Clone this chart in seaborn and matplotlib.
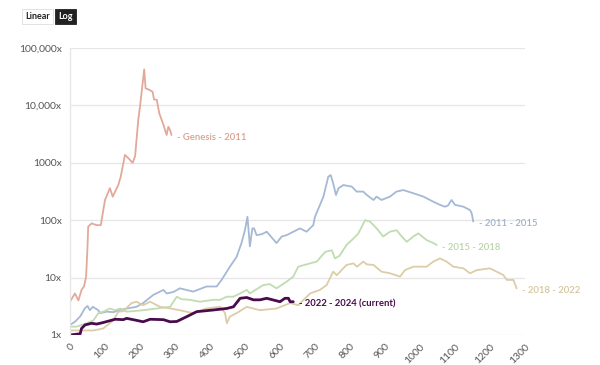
import matplotlib
matplotlib.use("Agg")
import matplotlib.pyplot as plt
import seaborn as sns
import pandas as pd

# ---- data (days since cycle low, multiple of cycle low price) ----
genesis_days = [0, 14, 24, 33, 40, 46, 50, 52, 62, 76, 88, 100, 114, 122, 138, 145, 157, 167, 179, 186,
                195, 200, 212, 216, 224, 236, 240, 248, 255, 267, 276, 281, 286, 290]
genesis_vals = [3.8, 5.3, 4.0, 6.1, 7.0, 10.4, 34.6, 77, 88, 82, 82, 225, 362, 257, 410, 575, 1370, 1200, 1000, 1300,
                5560, 9500, 42500, 19800, 19000, 17300, 12700, 12500, 7300, 4600, 3050, 4250, 3700, 3050]

c1115_days = [0, 14, 29, 43, 50, 57, 65, 81, 86, 105, 124, 150, 190, 209, 238, 267, 276, 295, 314, 352, 390, 419,
              433, 457, 476, 490, 500, 507, 514, 521, 526, 533, 548, 562, 590, 605, 619, 657, 676, 695, 700, 724,
              738, 745, 752, 760, 767, 781, 805, 819, 838, 848, 867, 876, 890, 914, 933, 952, 981, 1010, 1038,
              1057, 1071, 1080, 1090, 1100, 1124, 1143, 1148, 1152]
c1115_vals = [1.5, 1.7, 2.1, 2.95, 3.2, 2.7, 3.1, 2.7, 2.4, 2.55, 2.5, 2.8, 3.1, 3.6, 5.0, 6.1, 5.3, 5.6, 6.5, 5.7, 7.0, 7.0,
              9.1, 15.5, 23, 40, 68, 115, 35, 72, 72, 55, 57, 63, 40, 52, 55, 72, 63, 82, 115, 257,
              575, 610, 437, 275, 360, 410, 385, 315, 315, 275, 225, 257, 225, 257, 315, 335, 295, 257, 210,
              185, 172, 180, 225, 185, 172, 150, 130, 95]

c1518_days = [0, 19, 48, 67, 81, 95, 114, 129, 143, 162, 209, 248, 286, 305, 319, 343, 371, 410, 429, 448, 467,
              486, 505, 514, 552, 571, 590, 619, 638, 652, 686, 705, 729, 748, 757, 770, 790, 810, 824, 843, 857,
              876, 895, 914, 933, 948, 962, 981, 995, 1019, 1038, 1048]
c1518_vals = [1.4, 1.4, 1.6, 1.8, 2.4, 2.55, 2.9, 2.7, 2.9, 2.55, 2.7, 2.9, 3.1, 4.65, 4.2, 4.1, 3.8, 4.1, 4.1, 4.65, 4.65,
              5.3, 6.1, 5.3, 7.4, 7.7, 6.5, 8.5, 10.4, 15.5, 17.7, 19, 28, 30, 21.6, 24, 37, 48, 59, 100, 95,
              72, 52, 63, 67, 52, 42, 52, 59, 45, 40, 37]

c1822_days = [0, 29, 67, 95, 124, 138, 152, 176, 190, 209, 229, 257, 286, 314, 352, 390, 429, 443, 448, 457, 476,
              505, 543, 590, 629, 652, 686, 714, 733, 752, 762, 790, 810, 820, 838, 848, 867, 890, 914, 943, 957,
              981, 1019, 1038, 1057, 1076, 1095, 1124, 1143, 1162, 1200, 1238, 1248, 1267, 1276]
c1822_vals = [1.2, 1.2, 1.2, 1.3, 1.8, 2.55, 2.6, 3.6, 3.8, 3.3, 3.8, 3.1, 2.9, 2.7, 2.4, 2.9, 3.1, 2.4, 1.6, 2.1, 2.4,
              3.1, 2.7, 2.9, 3.6, 3.3, 5.3, 6.1, 7.4, 12.7, 11, 16.6, 17.7, 15.5, 19, 17, 16.6, 12.7, 11.9, 10.4, 13.5,
              15.5, 15.5, 19, 21.6, 19, 15.5, 14.5, 11.9, 13.5, 14.5, 11.1, 9.1, 9.1, 6.5]

c2224_days = [0, 29, 33, 43, 62, 76, 95, 129, 152, 162, 190, 209, 229, 267, 286, 305, 333, 362, 410, 448, 467,
              486, 505, 524, 543, 562, 581, 600, 614, 624, 629, 638]
c2224_vals = [1.0, 1.05, 1.3, 1.5, 1.6, 1.55, 1.65, 1.88, 1.85, 1.95, 1.8, 1.7, 1.88, 1.85, 1.7, 1.72, 2.08, 2.55, 2.73, 2.9, 3.1,
              4.36, 4.5, 4.1, 4.1, 4.36, 4.07, 3.8, 4.36, 4.36, 3.8, 3.8]

series_names = ["Genesis - 2011", "2011 - 2015", "2015 - 2018", "2018 - 2022", "2022 - 2024 (current)"]
x_ticks = list(range(0, 1301, 100))
y_ticks = [1, 10, 100, 1000, 10000, 100000]
y_tick_labels = ["1x", "10x", "100x", "1000x", "10,000x", "100,000x"]

colors = ["#e2a99a", "#a5b9d5", "#c1dcb0", "#dccda8", "#4a0b4c"]
label_colors = ["#d89e8e", "#9cb0cc", "#b8d4a6", "#d4c49c", "#4a0b4c"]
widths = [1.3, 1.3, 1.3, 1.3, 2.0]

rows = []
for name, d, v in zip(series_names,
                      [genesis_days, c1115_days, c1518_days, c1822_days, c2224_days],
                      [genesis_vals, c1115_vals, c1518_vals, c1822_vals, c2224_vals]):
    for a, b in zip(d, v):
        rows.append({"day": a, "mult": b, "cycle": name})
df = pd.DataFrame(rows)

sns.set_theme(style="white")
plt.rcParams["font.family"] = ["Lato", "DejaVu Sans"]

fig = plt.figure(figsize=(6.0, 3.65), dpi=100)
ax = fig.add_axes([70 / 600, 1 - 335 / 365, 455 / 600, 287 / 365])

for name, col, lw, lc in zip(series_names, colors, widths, label_colors):
    sub = df[df["cycle"] == name]
    sns.lineplot(data=sub, x="day", y="mult", ax=ax, color=col, linewidth=lw,
                 estimator=None, sort=False, legend=False)
    last = sub.iloc[-1]
    bold = name.endswith("(current)")
    ax.annotate("- " + name, xy=(last["day"], last["mult"]), xytext=(4, -1.5),
                textcoords="offset points", va="center", ha="left",
                fontsize=6.8, color=lc, fontweight="bold" if bold else "semibold")

ax.set_yscale("log")
ax.set_ylim(1, 100000)
ax.set_xlim(0, 1300)
ax.set_yticks(y_ticks)
ax.set_yticklabels(y_tick_labels)
ax.minorticks_off()
ax.set_xticks(x_ticks)
ax.set_xticklabels([str(t) for t in x_ticks], rotation=45, ha="right", rotation_mode="anchor")
ax.tick_params(axis="y", length=0, pad=6, labelsize=7.5, labelcolor="#555555")
ax.tick_params(axis="x", length=3, color="#dddddd", width=0.8, pad=2, labelsize=7.5, labelcolor="#555555")
ax.set_xlabel("")
ax.set_ylabel("")
ax.grid(axis="y", color="#e6e6e6", linewidth=0.9)
ax.grid(axis="x", visible=False)
for s in ["top", "right", "bottom"]:
    ax.spines[s].set_visible(False)
ax.spines["left"].set_color("#e6e6e6")
ax.spines["left"].set_linewidth(0.9)
ax.set_axisbelow(True)

# Linear / Log toggle
fig.text(25 / 600, 1 - 16.5 / 365, "Linear", fontsize=6.5, fontweight="bold", color="#222222",
         va="center", ha="left",
         bbox=dict(boxstyle="square,pad=0.35", fc="white", ec="#dddddd", lw=0.6))
fig.text(58 / 600, 1 - 16.5 / 365, "Log", fontsize=6.5, fontweight="bold", color="white",
         va="center", ha="left",
         bbox=dict(boxstyle="square,pad=0.35", fc="#222222", ec="#222222", lw=0.6))

fig.savefig("out.png", dpi=100, facecolor="white")
